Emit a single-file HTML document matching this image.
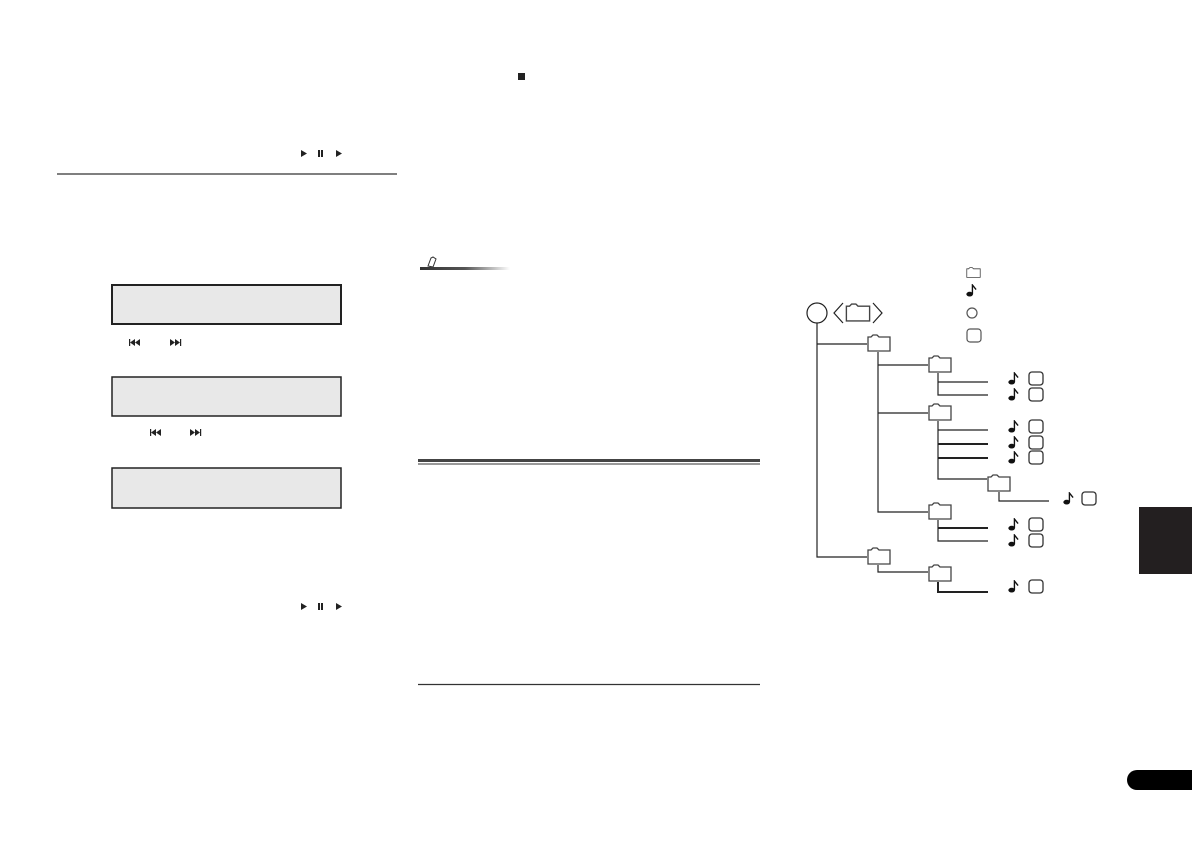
<!DOCTYPE html>
<html><head><meta charset="utf-8"><style>html,body{margin:0;padding:0;background:#fff}</style></head><body>
<svg width="1192" height="840" viewBox="0 0 1192 840" xmlns="http://www.w3.org/2000/svg">
<defs>
<linearGradient id="g" x1="0" x2="1"><stop offset="0" stop-color="#333"/><stop offset="0.5" stop-color="#555"/><stop offset="1" stop-color="#fff"/></linearGradient>
<symbol id="fd" viewBox="0 0 24 18"><path d="M1 17 V3 H4 L6 1 H10 L12 3 H23 V17 Z" fill="#fff" stroke="#444" stroke-width="1.3"/></symbol>
<symbol id="nt" viewBox="0 0 12 14"><ellipse cx="4" cy="11" rx="3.6" ry="2.6" fill="#111"/><path d="M7 11 V1 L11 6" fill="none" stroke="#111" stroke-width="1.5"/></symbol>
</defs>
<rect x="518" y="73" width="7" height="7" fill="#222"/>
<g fill="#222">
<polygon points="301,150 307,153.5 301,157"/><rect x="318" y="150" width="2" height="7"/><rect x="321" y="150" width="2" height="7"/><polygon points="336,150 342,153.5 336,157"/>
<polygon points="301,603 307,606.5 301,610"/><rect x="318" y="603" width="2" height="7"/><rect x="321" y="603" width="2" height="7"/><polygon points="336,603 342,606.5 336,610"/>
</g>
<line x1="57" y1="174" x2="397" y2="174" stroke="#333" stroke-width="1.2"/>
<rect x="112" y="285" width="229" height="39" fill="#e8e8e8" stroke="#222" stroke-width="2"/>
<rect x="112" y="377" width="229" height="39" fill="#e8e8e8" stroke="#222" stroke-width="1.5"/>
<rect x="112" y="468" width="229" height="40" fill="#e8e8e8" stroke="#222" stroke-width="1.5"/>
<g fill="#222">
<rect x="129" y="339" width="1.2" height="7"/><polygon points="130,342.5 135,339 135,346"/><polygon points="135,342.5 140,339 140,346"/>
<polygon points="170,339 175,342.5 170,346"/><polygon points="175,339 180,342.5 175,346"/><rect x="180" y="339" width="1.2" height="7"/>
<rect x="150" y="429" width="1.2" height="7"/><polygon points="151,432.5 156,429 156,436"/><polygon points="156,432.5 161,429 161,436"/>
<polygon points="190,429 195,432.5 190,436"/><polygon points="195,429 200,432.5 195,436"/><rect x="200" y="429" width="1.2" height="7"/>
</g>
<path d="M428 266 l3-8 l2-1 l3 2 l-3 8 z" fill="none" stroke="#333" stroke-width="1"/>
<rect x="420" y="267" width="90" height="3" fill="url(#g)"/>
<rect x="418" y="459" width="342" height="3" fill="#444"/>
<rect x="418" y="463.5" width="342" height="1" fill="#333"/>
<line x1="418" y1="684.5" x2="760" y2="684.5" stroke="#333" stroke-width="1.2"/>
<!-- tree -->
<g stroke="#222" stroke-width="1.2" fill="none">
<circle cx="817" cy="313" r="10"/>
<polyline points="843,303 834,313 843,323"/><polyline points="873,303 882,313 873,323"/>
<circle cx="972" cy="313" r="5" stroke="#555"/>
<rect x="967" y="329" width="14" height="13" rx="3" stroke="#555"/>
<polyline points="817,323 817,557 867,557"/><line x1="817" y1="344" x2="867" y2="344"/>
<polyline points="878,352 878,512 928,512"/><line x1="878" y1="365" x2="928" y2="365"/><line x1="878" y1="413" x2="928" y2="413"/>
<polyline points="938,373 938,395 988,395"/><line x1="938" y1="382" x2="988" y2="382"/>
<polyline points="938,421 938,479 987,479"/><line x1="938" y1="430" x2="988" y2="430"/>
<line x1="938" y1="444" x2="988" y2="444" stroke-width="2"/><line x1="938" y1="458" x2="988" y2="458" stroke-width="2"/>
<polyline points="999,492 999,501 1049,501"/>
<polyline points="938,520 938,541 988,541"/><line x1="938" y1="528" x2="988" y2="528" stroke-width="2"/>
<polyline points="878,565 878,572 928,572"/>
<polyline points="938,582 938,592 988,592" stroke-width="2"/>
</g>
<use href="#fd" x="845" y="303" width="26" height="19"/>
<use href="#fd" x="966" y="267" width="15" height="11"/>
<use href="#fd" x="867" y="334" width="24" height="18"/>
<use href="#fd" x="928" y="355" width="24" height="18"/>
<use href="#fd" x="928" y="403" width="24" height="18"/>
<use href="#fd" x="987" y="474" width="24" height="18"/>
<use href="#fd" x="928" y="502" width="24" height="18"/>
<use href="#fd" x="867" y="547" width="24" height="18"/>
<use href="#fd" x="928" y="564" width="24" height="18"/>
<use href="#nt" x="966" y="284" width="11" height="13"/>
<g>
<use href="#nt" x="1008" y="372" width="11" height="13"/><use href="#nt" x="1008" y="388" width="11" height="13"/>
<use href="#nt" x="1008" y="420" width="11" height="13"/><use href="#nt" x="1008" y="436" width="11" height="13"/><use href="#nt" x="1008" y="451" width="11" height="13"/>
<use href="#nt" x="1063" y="492" width="11" height="13"/>
<use href="#nt" x="1008" y="518" width="11" height="13"/><use href="#nt" x="1008" y="534" width="11" height="13"/>
<use href="#nt" x="1008" y="580" width="11" height="13"/>
</g>
<g stroke="#333" stroke-width="1.3" fill="#fff">
<rect x="1029" y="372" width="14" height="13" rx="3"/><rect x="1029" y="388" width="14" height="13" rx="3"/>
<rect x="1029" y="420" width="14" height="13" rx="3"/><rect x="1029" y="436" width="14" height="13" rx="3"/><rect x="1029" y="451" width="14" height="13" rx="3"/>
<rect x="1082" y="492" width="14" height="13" rx="3"/>
<rect x="1029" y="518" width="14" height="13" rx="3"/><rect x="1029" y="534" width="14" height="13" rx="3"/>
<rect x="1029" y="580" width="14" height="13" rx="3"/>
</g>
<rect x="1139" y="507" width="53" height="67" fill="#231f20"/>
<rect x="1127" y="770" width="80" height="20" rx="10" fill="#000"/>
</svg>
</body></html>
